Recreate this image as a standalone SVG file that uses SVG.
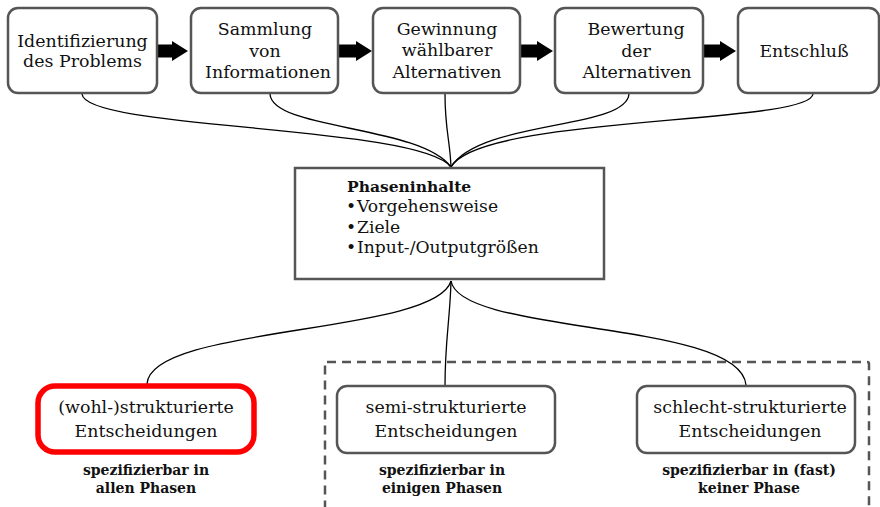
<svg xmlns="http://www.w3.org/2000/svg" width="880" height="507" viewBox="0 0 880 507">
<style>
.box{fill:#fff;stroke:#555;stroke-width:2.5}
.red{fill:#fff;stroke:#f00;stroke-width:5.5}
.t{font-family:"DejaVu Serif","Liberation Serif",serif;font-size:17.4px;fill:#111;text-anchor:middle}
.tl{font-family:"DejaVu Serif","Liberation Serif",serif;font-size:17.2px;fill:#111}
.b{font-family:"DejaVu Serif","Liberation Serif",serif;font-size:14px;font-weight:bold;fill:#111;text-anchor:middle}
.bh{font-family:"DejaVu Serif","Liberation Serif",serif;font-size:15.5px;font-weight:bold;fill:#111}
.c{fill:none;stroke:#000;stroke-width:1.3}
.arr{fill:#000}
.dash{fill:none;stroke:#555;stroke-width:2.5;stroke-dasharray:9 6}
</style>
<rect width="880" height="507" fill="#fff"/>
<rect class="dash" x="325" y="362" width="544" height="200" rx="2"/>
<g id="connectors">
<path class="c" d="M82,94 C85,130 420,125 451,167"/>
<path class="c" d="M270,94 C272,130 420,125 451,167"/>
<path class="c" d="M445,94 C445,130 450,140 451,167"/>
<path class="c" d="M629,94 C626,130 480,120 451,167"/>
<path class="c" d="M813,94 C810,125 480,115 451,167"/>
<path class="c" d="M451,281 C435,335 150,325 147,384"/>
<path class="c" d="M451,281 C450,320 445,340 445,386"/>
<path class="c" d="M451,281 C460,335 740,320 746,385"/>
<polygon class="arr" points="157,44.5 172,44.5 172,41 188,51 172,61 172,57.5 157,57.5"/>
<polygon class="arr" points="339,44.5 356,44.5 356,41 372,51 356,61 356,57.5 339,57.5"/>
<polygon class="arr" points="521,44.5 537,44.5 537,41 553,51 537,61 537,57.5 521,57.5"/>
<polygon class="arr" points="704,44.5 720,44.5 720,41 736,51 720,61 720,57.5 704,57.5"/>
</g>
<g id="n1">
<rect class="box" x="8" y="8" width="149" height="85" rx="10"/>
<text class="t" x="82.5" y="47">Identifizierung</text>
<text class="t" x="82.5" y="67">des Problems</text>
</g>
<g id="n2">
<rect class="box" x="191" y="8" width="147" height="85" rx="10"/>
<text class="t" x="265" y="35">Sammlung</text>
<text class="t" x="265" y="57">von</text>
<text class="t" x="268" y="78">Informationen</text>
</g>
<g id="n3">
<rect class="box" x="373" y="8" width="147" height="85" rx="10"/>
<text class="t" x="447" y="35">Gewinnung</text>
<text class="t" x="447" y="56">wählbarer</text>
<text class="t" x="447" y="78">Alternativen</text>
</g>
<g id="n4">
<rect class="box" x="555" y="8" width="148" height="85" rx="10"/>
<text class="t" x="636" y="35">Bewertung</text>
<text class="t" x="636" y="57">der</text>
<text class="t" x="637" y="78">Alternativen</text>
</g>
<g id="n5">
<rect class="box" x="738" y="8" width="141" height="85" rx="10"/>
<text class="t" x="804" y="57">Entschluß</text>
</g>
<g id="phaseninhalte">
<rect class="box" x="295" y="168" width="309" height="111"/>
<text class="bh" x="347" y="192">Phaseninhalte</text>
<text class="tl" x="346" y="212">•</text><text class="tl" x="357" y="212">Vorgehensweise</text>
<text class="tl" x="346" y="233">•</text><text class="tl" x="357" y="233">Ziele</text>
<text class="tl" x="346" y="253">•</text><text class="tl" x="357" y="253">Input-/Outputgrößen</text>
</g>
<g id="wohl">
<rect class="red" x="38" y="386" width="216" height="66" rx="17"/>
<text class="t" x="146" y="413">(wohl-)strukturierte</text>
<text class="t" x="146" y="437">Entscheidungen</text>
<text class="b" x="146" y="475">spezifizierbar in</text>
<text class="b" x="146" y="493">allen Phasen</text>
</g>
<g id="semi">
<rect class="box" x="337" y="386" width="218" height="67" rx="10"/>
<text class="t" x="446" y="413">semi-strukturierte</text>
<text class="t" x="446" y="437">Entscheidungen</text>
<text class="b" x="442" y="475">spezifizierbar in</text>
<text class="b" x="442" y="493">einigen Phasen</text>
</g>
<g id="schlecht">
<rect class="box" x="637" y="386" width="218" height="67" rx="10"/>
<text class="t" x="750" y="413">schlecht-strukturierte</text>
<text class="t" x="750" y="437">Entscheidungen</text>
<text class="b" x="749" y="475">spezifizierbar in (fast)</text>
<text class="b" x="749" y="493">keiner Phase</text>
</g>
</svg>
